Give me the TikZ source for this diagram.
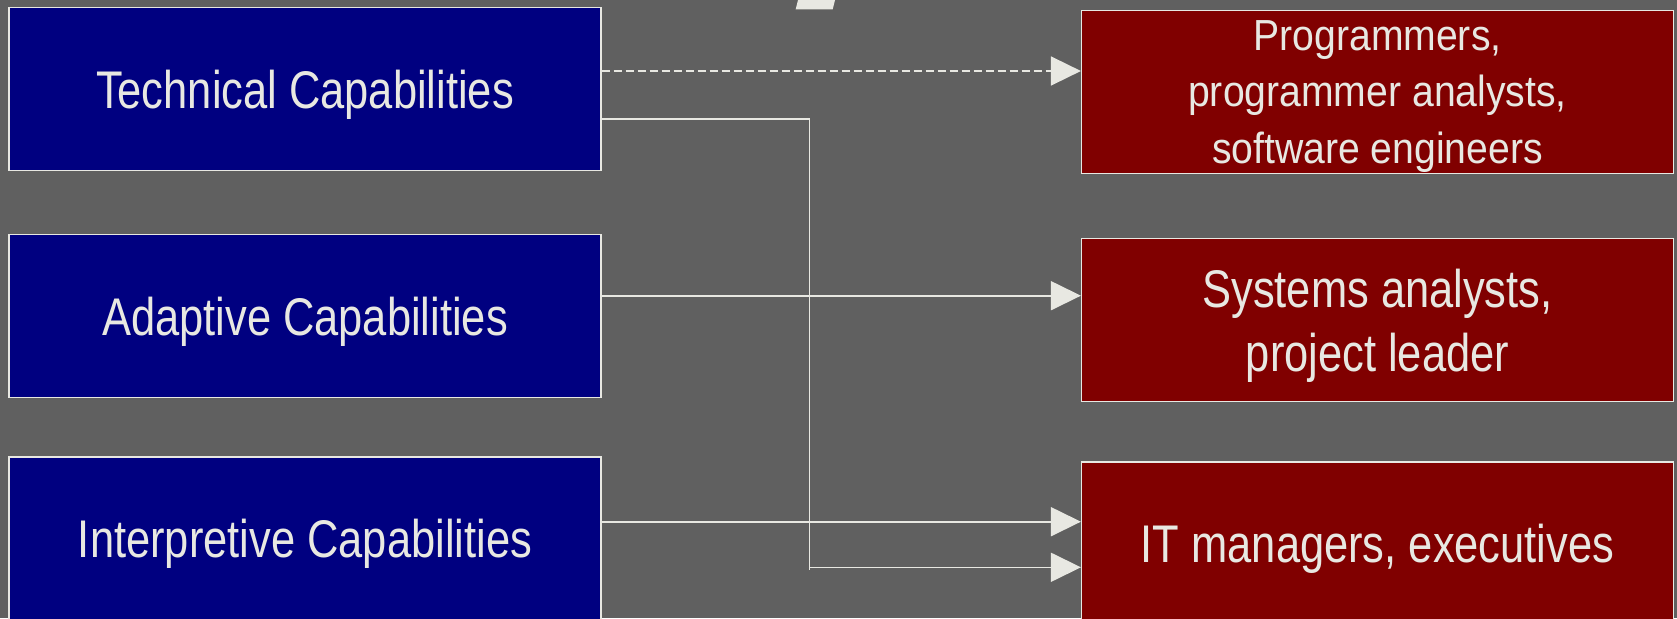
\documentclass[tikz,border=0pt]{standalone}
\usepackage{fontspec}
\setmainfont{Liberation Sans}[FakeStretch=0.82]
\newfontfamily\rolefont{Liberation Sans}[FakeStretch=0.90]
\usepackage{tikz}
\usetikzlibrary{arrows.meta, positioning}

\definecolor{slidebg}{HTML}{606060}
\definecolor{capblue}{HTML}{000080}
\definecolor{rolered}{HTML}{800000}
\definecolor{chalk}{HTML}{E8E8E2}

\begin{document}
\begin{tikzpicture}[
      x=1pt, y=-1pt,
      capbox/.style={rectangle, draw=chalk, line width=1.2pt, fill=capblue, text=chalk,
        minimum width=592pt, minimum height=163pt, inner sep=0pt, align=center,
        text depth=0pt, font=\fontsize{53}{64}\selectfont},
      rolebox/.style={capbox, fill=rolered},
      link/.style={-{Triangle[length=30pt, width=29pt]}, draw=chalk, line width=1.6pt}
  ]
      % Background
      \fill[slidebg] (0,0) rectangle (1677,618);
      \useasboundingbox (0,0) rectangle (1677,618);
      \fill[chalk] (798,0) -- (835,0) -- (832.7,9.3) -- (795.7,9.3) -- cycle;

      % Capability nodes
      \node[capbox] (tech) at (305,89) {Technical Capabilities};
      \node[capbox, below=63pt of tech] (adapt) {Adaptive Capabilities};
      \node[capbox, below=58pt of adapt] (interp) {Interpretive Capabilities};

      % Role nodes
      \node[rolebox, font=\rolefont\fontsize{43.5}{56.5}\selectfont] (prog) at (1377.5,92)
        {Programmers,\\programmer analysts,\\software engineers};
      \node[rolebox, below=64pt of prog] (sys) {Systems analysts,\\project leader};
      \node[rolebox, below=59pt of sys] (itm) {IT managers, executives};

      % Bend point
      \coordinate (bend) at (809.3,567.3);

      % Arrows
      \draw[link, dashed, dash pattern=on 8pt off 4pt] ([yshift=18pt]tech.east) -- ([yshift=18pt]tech.east -| prog.west);
      \draw[link] ([yshift=-30pt]tech.east) -| ([yshift=-3pt]bend) (bend) -- (bend -| itm.west);
      \draw[link] ([yshift=20.5pt]adapt.east) -- ([yshift=20.5pt]adapt.east -| sys.west);
      \draw[link] ([yshift=16.7pt]interp.east) -- ([yshift=16.7pt]interp.east -| itm.west);
  \end{tikzpicture}
\end{document}
